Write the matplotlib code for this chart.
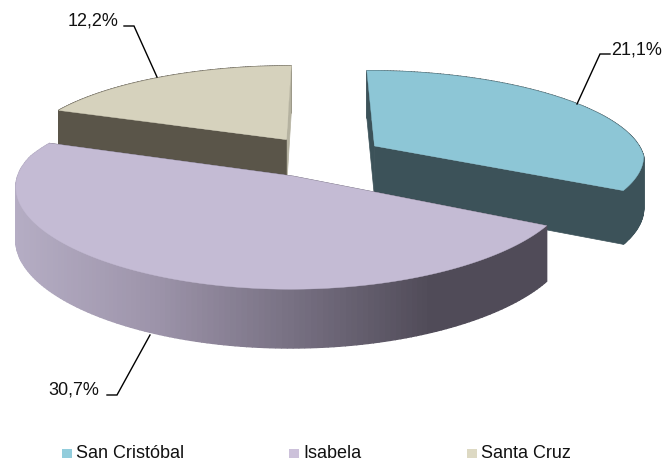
import numpy as np
import matplotlib
matplotlib.use("Agg")
import matplotlib.pyplot as plt
from matplotlib.patches import Polygon, Rectangle
from matplotlib.colors import to_rgb

# datos
categorias = ["San Cristóbal", "Isabela", "Santa Cruz"]
valores = [21.1, 30.7, 12.2]
etiquetas = ["21,1%", "30,7%", "12,2%"]

plt.rcParams["font.family"] = ["Liberation Sans", "DejaVu Sans"]

# proyeccion del pastel 3D (pixeles)
X0, Y0 = 321.0, 156.5
S, SY = 270.0, 89.5
KX_LEJOS, KX_CERCA, KY = 0.17, 0.10, 0.15
ALTO = 52.0
EXPLOSION = 0.235
INICIO = 90.0

TOPE = ["#8dc6d6", "#c4bbd4", "#d6d2bd"]
PARED = ["#3c5259", "#504b58", "#5a5549"]
CARA_INI = ["#3c5259", "#504b58", "#5a5549"]
CARA_FIN = ["#3c5259", "#504b58", "#b5b2a0"]
LEYENDA = ["#92cddc", "#ccc1da", "#ddd9c3"]
ORDEN = {0: 1, 2: 2, 1: 3}


def proyectar(u, v):
    x = X0 + S * u / (1 + np.where(v > 0, KX_LEJOS, KX_CERCA) * v)
    y = Y0 - SY * v / (1 + KY * v)
    return x, y, ALTO / np.sqrt(1 + 0.18 * v)


fig = plt.figure(figsize=(6.67, 4.63), dpi=100)
ax = fig.add_axes([0, 0, 1, 1])
ax.set_xlim(0, 667)
ax.set_ylim(463, 0)
ax.axis("off")


def color_pared(x):
    # sombreado de la pared de Isabela segun x
    stops = [15, 150, 300, 430]
    cols = [to_rgb(c) for c in ["#b5adc4", "#9e95ab", "#756e80", "#504b58"]]
    return tuple(np.interp(x, stops, [c[i] for c in cols]) for i in range(3))


def dibujar_porcion(i, a0, a1):
    """a0 > a1: sentido horario, en grados."""
    medio = np.radians((a0 + a1) / 2)
    ox, oy = EXPLOSION * np.cos(medio), EXPLOSION * np.sin(medio)
    ang = np.radians(np.linspace(a0, a1, 160))
    xa, ya, ha = proyectar(ox + np.cos(ang), oy + np.sin(ang))
    xc, yc, hc = proyectar(ox, oy)
    z = ORDEN[i]

    # pared exterior
    for j in range(len(ang) - 1):
        col = color_pared((xa[j] + xa[j + 1]) / 2) if i == 1 else PARED[i]
        quad = [(xa[j], ya[j]), (xa[j + 1], ya[j + 1]),
                (xa[j + 1], ya[j + 1] + ha[j + 1]), (xa[j], ya[j] + ha[j])]
        ax.add_patch(Polygon(quad, fc=col, ec=col, lw=1.0, zorder=z))
    # caras de corte
    ax.add_patch(Polygon([(xc, yc), (xa[-1], ya[-1]), (xa[-1], ya[-1] + ha[-1]), (xc, yc + hc)],
                         fc=CARA_FIN[i], ec=CARA_FIN[i], lw=0.5, zorder=z + 0.1))
    ax.add_patch(Polygon([(xc, yc), (xa[0], ya[0]), (xa[0], ya[0] + ha[0]), (xc, yc + hc)],
                         fc=CARA_INI[i], ec=CARA_INI[i], lw=0.5, zorder=z + 0.2))
    # tapa
    pts = [(xc, yc)] + list(zip(xa, ya))
    ax.add_patch(Polygon(pts, fc=TOPE[i], ec=TOPE[i], lw=0.3, zorder=z + 0.5))


total = sum(valores)
a = INICIO
for i, val in enumerate(valores):
    paso = 360.0 * val / total
    dibujar_porcion(i, a, a - paso)
    a -= paso

# etiquetas con linea guia
guias = [
    ([577, 600, 610], [104, 54, 54], 611, 50),
    ([150, 117, 107], [335, 395, 395], 48, 390),
    ([157, 134, 124], [77, 26, 26], 68, 21),
]
for txt, (gx, gy, tx, ty) in zip(etiquetas, guias):
    ax.plot(gx, gy, color="black", lw=1.0, zorder=5, solid_joinstyle="miter")
    ax.text(tx, ty, txt, fontsize=13, color="#111111", va="center", ha="left", zorder=6)

# leyenda
pos_cuadro = [62, 289, 467]
for nombre, col, xc in zip(categorias, LEYENDA, pos_cuadro):
    ax.add_patch(Rectangle((xc, 449), 10, 9, fc=col, ec="none"))
    ax.text(xc + 14, 454, nombre, fontsize=13, color="#111111", va="center", ha="left")

fig.savefig("out.png", dpi=100)
